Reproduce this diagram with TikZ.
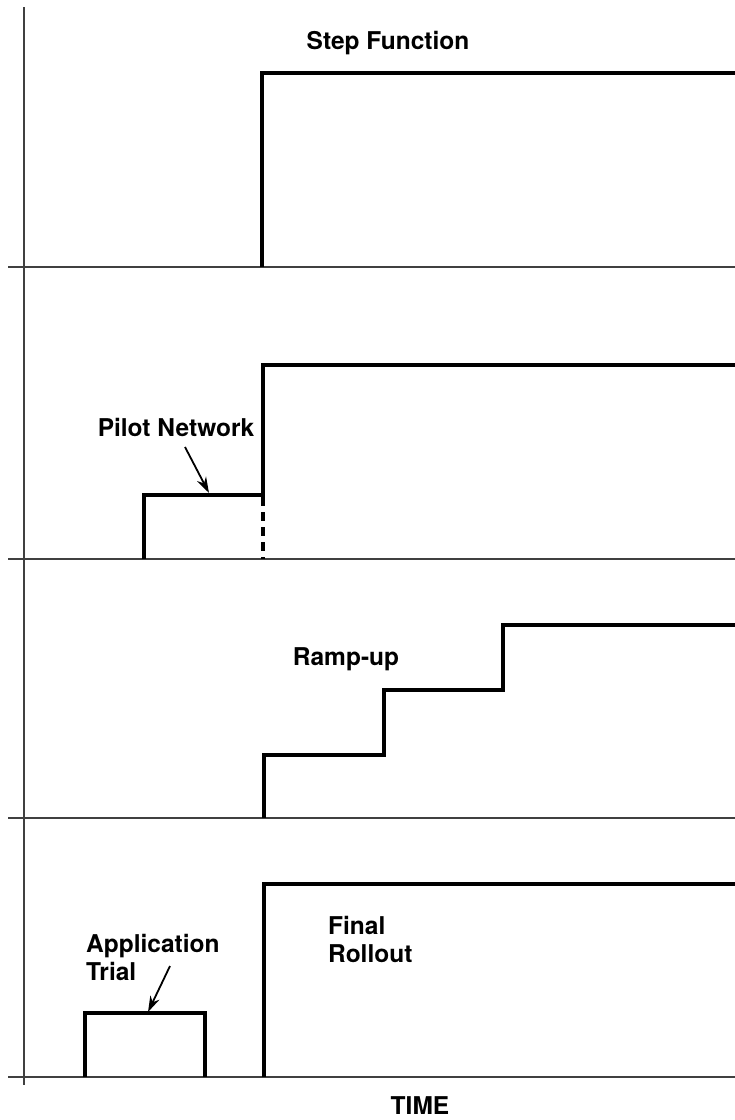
\documentclass[tikz,border=0pt]{standalone}
\usepackage{fontspec}
\setmainfont{TeX Gyre Heros}
\usepackage{tikz}
\usetikzlibrary{arrows.meta}

\begin{document}
\begin{tikzpicture}[x=1pt,y=1pt,yscale=-1,
  axisline/.style={line width=1.4pt,black!75},
  trace/.style={line width=3.2pt,line join=miter},
  pointer/.style={line width=1.8pt,-{Stealth[length=16pt,width=10pt]}},
  lbl/.style={inner sep=0pt,font=\bfseries\fontsize{24.5}{28}\selectfont}]
\useasboundingbox (0,0) rectangle (735,1120);
\draw[axisline] (24,7) -- (24,1085);
\draw[axisline] (8,267) -- (735,267);
\draw[axisline] (8,559) -- (735,559);
\draw[axisline] (8,818) -- (735,818);
\draw[axisline] (8,1077) -- (735,1077);
\draw[trace] (262,267) -- (262,73) -- (735,73);
\draw[trace] (144,559) -- (144,495) -- (263,495) -- (263,365) -- (735,365);
\draw[trace,dash pattern=on 9pt off 6pt] (263,497) -- (263,559);
\draw[trace] (264,818) -- (264,755) -- (384,755) -- (384,690) -- (503,690) -- (503,625) -- (735,625);
\draw[trace] (85,1077) -- (85,1013) -- (205,1013) -- (205,1077);
\draw[trace] (264,1077) -- (264,884) -- (735,884);
\node[lbl,anchor=base] (stepfn) at (388,49) {Step Function};
\node[lbl,anchor=base] (pilot) at (176,436) {Pilot Network};
\node[lbl,anchor=base] (ramp) at (346,665) {Ramp-up};
\node[lbl,anchor=north west,align=left] (trial) at (86,934) {Application\\Trial};
\node[lbl,anchor=north west,align=left] (rollout) at (328,916) {Final\\Rollout};
\node[lbl,anchor=base] (time) at (420,1114) {TIME};
\coordinate (pilotTail) at (185,447);
\coordinate (pilotTip) at (209,493);
\coordinate (trialTail) at (170,966);
\coordinate (trialTip) at (148,1012);
\draw[pointer] (pilotTail) -- (pilotTip);
\draw[pointer] (trialTail) -- (trialTip);
\end{tikzpicture}
\end{document}
